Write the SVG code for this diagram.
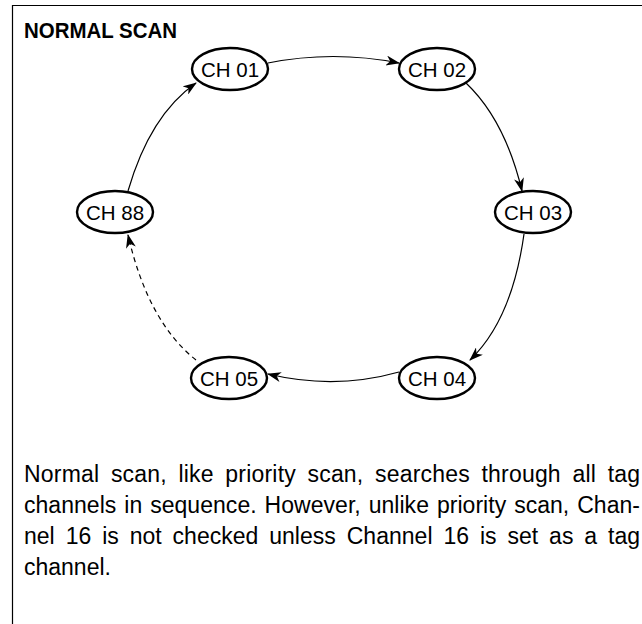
<svg xmlns="http://www.w3.org/2000/svg" width="642" height="624" viewBox="0 0 642 624">
  <defs>
    <marker id="arr" markerWidth="14" markerHeight="10" refX="13" refY="5" orient="auto" markerUnits="userSpaceOnUse">
      <path d="M0,0 L14,5 L0,10 L4,5 Z" fill="#000"/>
    </marker>
    <style>
      .node ellipse { fill: #fff; stroke: #000; stroke-width: 2.4; }
      .node text { font-family: "Liberation Sans", Arial, sans-serif; font-size: 20.5px; text-anchor: middle; fill: #000; }
      .conn path { fill: none; stroke: #000; stroke-width: 1.2; marker-end: url(#arr); }
      .conn path.dash { stroke-dasharray: 5 4; }
      .body { font-family: "Liberation Sans", Arial, sans-serif; font-size: 23px; fill: #000; }
    </style>
  </defs>
  <rect width="642" height="624" fill="#fff"/>
  <path d="M12.5,624 L12.5,5.5 L642,5.5" fill="none" stroke="#000" stroke-width="1.2"/>
  <text x="24" y="38" font-family="Liberation Sans, Arial, sans-serif" font-size="22.5" font-weight="bold" textLength="153" lengthAdjust="spacingAndGlyphs">NORMAL SCAN</text>

  <g class="conn">
    <path d="M268,63 Q333,50 399,63"/>
    <path d="M466,83 Q505,120 522,191"/>
    <path d="M524,234 Q512,320 470,360"/>
    <path d="M399,372 Q335,390 268,374"/>
    <path class="dash" d="M196,360 Q148,322 128,235"/>
    <path d="M128,191 Q150,115 196,83"/>
  </g>

  <g id="ch01" class="node"><ellipse cx="230" cy="69" rx="38" ry="21"/><text x="230" y="76.5">CH 01</text></g>
  <g id="ch02" class="node"><ellipse cx="437" cy="69" rx="38" ry="21"/><text x="437" y="76.5">CH 02</text></g>
  <g id="ch03" class="node"><ellipse cx="533" cy="212" rx="38" ry="21"/><text x="533" y="219.5">CH 03</text></g>
  <g id="ch04" class="node"><ellipse cx="437" cy="378" rx="38" ry="21"/><text x="437" y="385.5">CH 04</text></g>
  <g id="ch05" class="node"><ellipse cx="229" cy="378" rx="38" ry="21"/><text x="229" y="385.5">CH 05</text></g>
  <g id="ch88" class="node"><ellipse cx="115" cy="212" rx="38" ry="21"/><text x="115" y="219.5">CH 88</text></g>

  <text class="body" x="24" y="482" word-spacing="5" textLength="616" lengthAdjust="spacing">Normal scan, like priority scan, searches through all tag</text>
  <text class="body" x="24" y="513" word-spacing="1.5" textLength="616" lengthAdjust="spacing">channels in sequence. However, unlike priority scan, Chan-</text>
  <text class="body" x="24" y="544" word-spacing="4.5" textLength="616" lengthAdjust="spacing">nel 16 is not checked unless Channel 16 is set as a tag</text>
  <text class="body" x="24" y="575">channel.</text>
</svg>
